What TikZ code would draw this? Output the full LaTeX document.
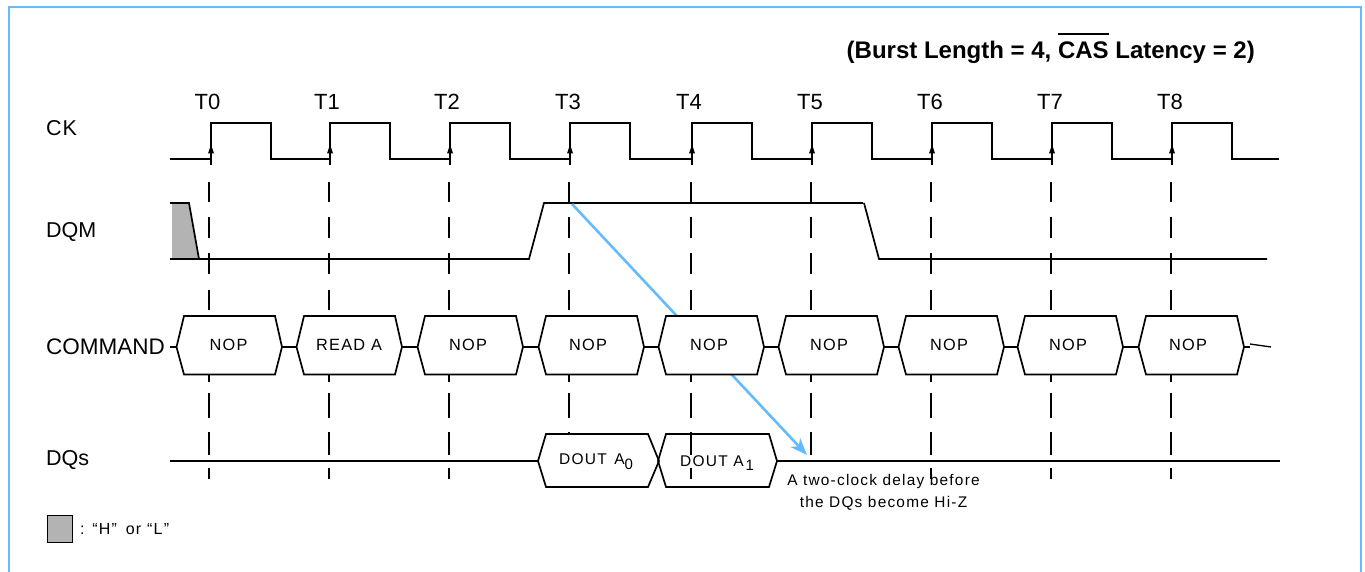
\documentclass[tikz,border=0pt]{standalone}
\usepackage{fontspec}
\setmainfont{Liberation Sans}
\newfontfamily\spacedfont[LetterSpace=8]{Liberation Sans}
\usetikzlibrary{arrows.meta}
\definecolor{frameblue}{HTML}{66BBFF}
\definecolor{holdgray}{HTML}{B3B3B3}
\tikzset{
  sig/.style={line width=1.7pt,line join=miter,black},
  dashseg/.style={line width=1.8pt,black},
  label/.style={anchor=base west,inner sep=0pt,font=\fontsize{21.5}{24}\selectfont},
  tlabel/.style={anchor=base,inner sep=0pt,font=\fontsize{22}{24}\selectfont},
  boxtext/.style={anchor=base,inner sep=0pt,font=\spacedfont\fontsize{16.3}{18}\selectfont},
  dataText/.style={anchor=base west,inner sep=0pt,font=\spacedfont\fontsize{15.5}{18}\selectfont},
  hexbox/.style={line width=1.7pt,fill=white,draw=black},
  blueline/.style={line width=2.6pt,frameblue},
}
\begin{document}
\begin{tikzpicture}[x=1pt,y=-1pt]
\useasboundingbox (0,0) rectangle (1365,572);
% frame
\coordinate (fa) at (9,572);
\coordinate (fb) at (9,7);
\coordinate (fc) at (1361,7);
\coordinate (fd) at (1361,572);
\draw[line width=2.4pt,frameblue] (fa) -- (fb) -- (fc) -- (fd);
% title
\node[anchor=base east,inner sep=0pt,font=\bfseries\fontsize{24}{28}\selectfont] (title) at (1255,59)
  {(Burst Length = 4, \setbox0\hbox{CAS}\rlap{\rule[24pt]{\wd0}{1.6pt}}\box0\ Latency = 2)};
% signal names
\node[label] (lck) at (46,135.7) {C\kern1ptK};
\node[label] (ldqm) at (46,237.7) {DQM};
\node[label,font=\fontsize{22.5}{24}\selectfont] (lcmd) at (46,354) {COMMAND};
\node[label] (ldqs) at (46,465.7) {DQs};
% dashed clock guides
\foreach \x/\seg in {209/1,329/1,449/1,569/1,691/1,811/0,931/1,1051/1,1171/1}{
  \foreach \a/\b in {182/202,217/238,253/274,290/310,375/382,393/418,432/455}{
    \draw[dashseg] (\x,\a) -- (\x,\b);
  }
  \ifnum\seg=1 \draw[dashseg] (\x,468) -- (\x,479);\fi
}
% clock
\coordinate (ck0) at (170,159);
\draw[sig] (ck0)
  \foreach \x in {211,330,450,570,692,812,932,1052,1172}{
    -- (\x,159) -- (\x,123) -- (\x+60,123) -- (\x+60,159)
  } -- (1279,159);
\foreach \x/\t/\lx in {211/T0/207.5,330/T1/327,450/T2/447,570/T3/568,692/T4/689,812/T5/810,932/T6/930,1052/T7/1050,1172/T8/1170}{
  \draw[sig] (\x,159) -- (\x,165);
  \fill[black] (\x-3,153.5) -- (\x,144.5) -- (\x+3,153.5) -- cycle;
  \node[tlabel] (l\t) at (\lx,110) {\t};
}
% DQM
\fill[holdgray] (172,204) -- (189,204) -- (199,258) -- (172,258) -- cycle;
\coordinate (dq0) at (170,203);
\coordinate (dq1) at (189,203);
\coordinate (dq2) at (199,259);
\coordinate (dq3) at (170,259);
\coordinate (dq4) at (529,259);
\coordinate (dq5) at (544,203);
\coordinate (dq6) at (863,203);
\coordinate (dq7) at (864,203);
\coordinate (dq8) at (879,259);
\coordinate (dq9) at (1267,259);
\draw[sig] (dq0) -- (dq1) -- (dq2);
\draw[sig] (dq3) -- (dq4) -- (dq5) -- (dq6);
\draw[sig] (dq7) -- (dq8) -- (dq9);
% blue delay arrow (passes behind the command box)
\coordinate (ba) at (572,204);
\coordinate (bb) at (807,455);
\draw[blueline,-{Stealth[length=17pt,width=13pt,inset=5pt]}] (ba) -- (bb);
% command bus
\coordinate (cstart) at (170,347);
\foreach \i/\tl/\txt/\tx in {0/184/NOP/228.5,1/304/READ A/349,2/425/NOP/468,3/546/NOP/588,4/666/NOP/709,5/786/NOP/829,6/906/NOP/949,7/1025/NOP/1068,8/1146/NOP/1188}{
  \coordinate (c\i l) at (\tl-7.5,347);
  \coordinate (c\i r) at (\tl+98,347);
  \draw[hexbox] (c\i l) -- (\tl,316) -- (\tl+91,316) -- (c\i r) -- (\tl+91,374.5) -- (\tl,374.5) -- cycle;
  \node[boxtext] (ct\i) at (\tx,350) {\txt};
}
\draw[sig] (cstart) -- (c0l);
\foreach \i/\j in {0/1,1/2,2/3,3/4,4/5,5/6,6/7,7/8}{
  \draw[sig] (c\i r) -- (c\j l);
}
\coordinate (cend1) at (1250,347);
\coordinate (cend2) at (1250,344);
\coordinate (cend3) at (1271,347);
\draw[sig] (c8r) -- (cend1);
\draw[sig,line width=1.3pt] (cend2) -- (cend3);
% DQs
\coordinate (dqsa) at (170,461);
\coordinate (dqe) at (1280,461);
\coordinate (a0l) at (538,461);
\coordinate (a0r) at (659,461);
\coordinate (a1l) at (658,461);
\coordinate (a1r) at (777,461);
\draw[sig] (dqsa) -- (a0l);
\draw[sig] (a1r) -- (dqe);
\draw[hexbox] (a0l) -- (546,434) -- (648,434) -- (a0r) -- (648,487) -- (546,487) -- cycle;
\draw[hexbox,fill=none] (a1l) -- (666,434) -- (769,434) -- (a1r) -- (769,487) -- (666,487) -- cycle;
\node[dataText] (da0) at (559,464) {DOUT\kern2pt\ A\raisebox{-5pt}{\fontsize{15}{16}\selectfont 0}};
\node[dataText] (da1) at (680,466) {DOUT A\kern2pt\raisebox{-4pt}{\fontsize{15}{16}\selectfont 1}};
% annotation
\node[inner sep=0pt,align=center,font=\spacedfont\fontsize{15.4}{21.7}\selectfont] (note) at (883.5,492.5)
  {A two-clock delay before\\the DQs become Hi-Z};
% legend
\node[draw=black,line width=1.8pt,fill=holdgray,minimum width=25pt,minimum height=27pt,inner sep=0pt] (key) at (60,529) {};
\node[anchor=base west,inner sep=0pt,font=\spacedfont\fontsize{16}{18}\selectfont] (keyt) at (80,534) {: “H”\kern3pt\ or “L”};
\end{tikzpicture}
\end{document}
